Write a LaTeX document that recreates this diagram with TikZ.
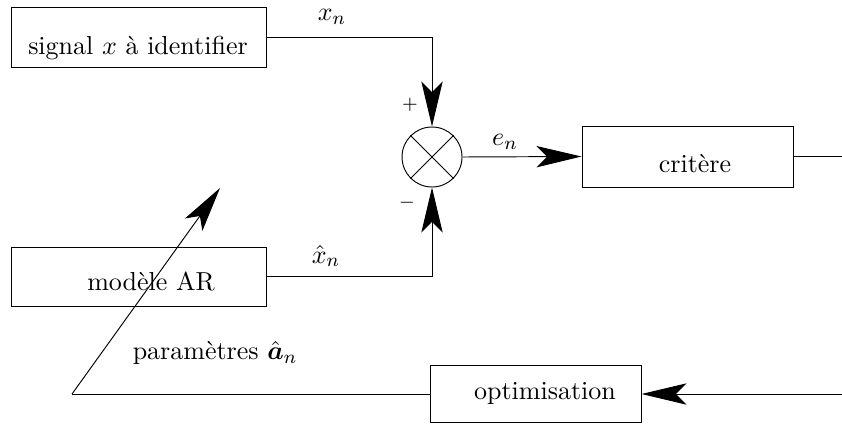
\documentclass[tikz,border=0pt,11pt]{standalone}
\usepackage{amsmath, amssymb, bm}
\usepackage{tikz}
\usetikzlibrary{arrows.meta}
\usetikzlibrary{calc}

\begin{document}
\begin{tikzpicture}[x=0.0148cm, y=-0.0148cm,
  bloc/.style={draw, rectangle, inner sep=0pt},
  sommateur/.style={draw, circle, inner sep=0pt, minimum size=0.888cm},
  fleche/.style={-{Stealth[length=19pt, width=9pt, inset=4.5pt]}},
  signe/.style={font=\scriptsize}]
\useasboundingbox (0,0) rectangle (842,423);

\path
 (842,156.5) coordinate (S)
 (842,394)   coordinate (R)
 (72,394)    coordinate (P)
 (220,188)   coordinate (T)
;

\node[bloc, minimum width=3.774cm, minimum height=0.888cm] (signal)  at (138.5,37)  {};
\node[bloc, minimum width=3.774cm, minimum height=0.873cm] (modele)  at (138.5,276.5) {};
\node[bloc, minimum width=3.123cm, minimum height=0.903cm] (critere) at (687.5,156.5) {};
\node[bloc, minimum width=3.123cm, minimum height=0.851cm] (optim)   at (535.5,394) {};
\node[sommateur] (sum) at (432,157) {};

\node (tsignal)  at (138,48)  {signal $x$ à identifier};
\node (tmodele)  at (151,281) {modèle AR};
\node (tcritere) at (695,164) {critère};
\node (toptim)   at (545,393) {optimisation};
\node (tparam)   at (215,353) {paramètres $\hat{\bm{a}}_n$};

\node (lx)   at (332,16.5) {$x_n$};
\node (lxh)  at (326,256)  {$\hat{x}_n$};
\node (le)   at (505,141.5) {$e_n$};
\node[signe] (plus)  at (410,105) {$+$};
\node[signe] (moins) at (407,203) {$-$};

\draw
   (sum.north west) -- (sum.south east)
   (sum.north east) -- (sum.south west)
;

\draw[fleche] (signal.east) -| (sum.north);
\draw[fleche] (modele.east) -| (sum.south);
\draw[fleche] (sum.east) -- (critere.west);
\draw (critere.east) -- (S);
\draw[fleche] (R) -- (optim.east);
\draw (optim.west) -- (P);
\draw[fleche] (P) -- (T);
\end{tikzpicture}
\end{document}
